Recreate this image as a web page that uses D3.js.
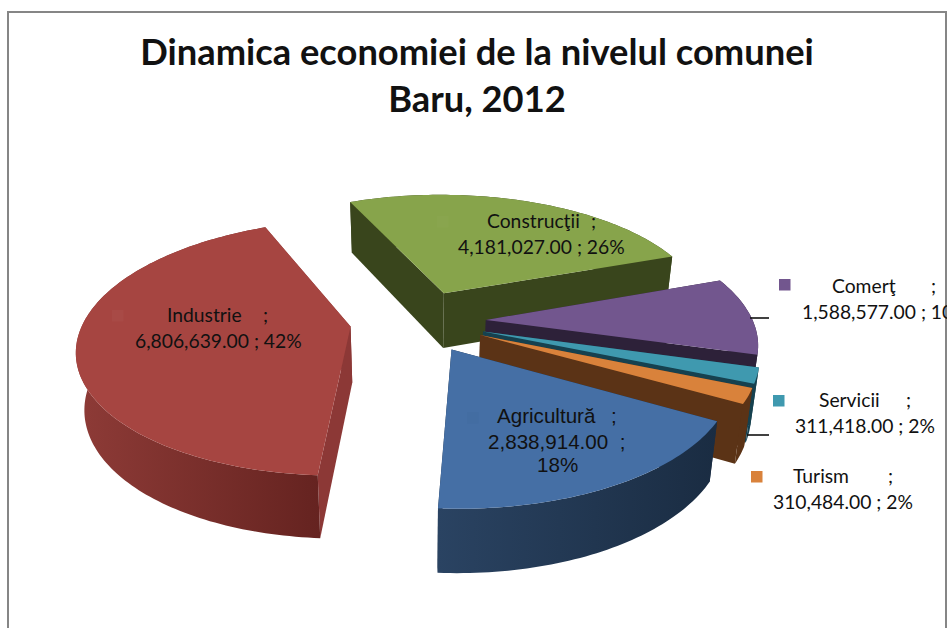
<!DOCTYPE html>
<html>
<head>
<meta charset="utf-8">
<script src="https://cdn.jsdelivr.net/npm/d3@7"></script>
<style>
html, body { margin: 0; padding: 0; background: #fff; overflow: hidden; }
svg { display: block; }
text { font-family: Lato, sans-serif; fill: #111; white-space: pre; }
</style>
</head>
<body>
<svg width="947" height="628"></svg>
<script>
var categories = ["Industrie", "Construcţii", "Comerţ", "Servicii", "Turism", "Agricultură"];
var values = [6806639, 4181027, 1588577, 311418, 310484, 2838914];
var titleLines = ["Dinamica economiei de la nivelul comunei", "Baru, 2012"];

var topColors = ["#a64541", "#87a44b", "#72568e", "#3f99af", "#d9823b", "#456fa5"];
var sideColors = ["#8c3836", "#39451c", "#2d2139", "#16414f", "#5b3316", "#1a2d44"];
var wallLeft = ["#8e3b37", "#39451c", "#2d2139", "#16414f", "#5b3316", "#2a4362"];
var wallRight = ["#652320", "#39451c", "#2d2139", "#16414f", "#5b3316", "#1a2c42"];
var keyColors = ["#a84a46", "#89a54e", "#72568e", "#3f99af", "#d9823b", "#436da2"];

var svg = d3.select("svg");

// projection of the pie plane, fitted by eye on the picture
var cx = 418, cy = 321,
    radius = 267, explode = 68, depth = 56,
    tilt = 0.46, persp = 1640, converge = 0.025,
    startAngle = 183.5 * Math.PI / 180;

function project(u, v, z) {
    var w = 1 - v / persp,
        k = z / depth;
    return [cx + (u / w) * (1 - converge * k), cy + tilt * v / w + z * (0.4 + 0.6 / w)];
}

var total = d3.sum(values);
var pie = d3.pie().sort(null)
    .startAngle(startAngle)
    .endAngle(startAngle + 2 * Math.PI);
var slices = pie(values);

var line = d3.line();
var fmtValue = d3.format(",.2f"),
    fmtPct = d3.format(".0%");

// frame
svg.append("path")
    .attr("d", "M8,628 V12 H946 V628")
    .attr("fill", "none")
    .attr("stroke", "#868686")
    .attr("stroke-width", 2);

var defs = svg.append("defs");
slices.forEach(function(d, i) {
    var g = defs.append("linearGradient")
        .attr("id", "wall" + i)
        .attr("gradientUnits", "objectBoundingBox");
    g.append("stop").attr("offset", "0%").attr("stop-color", wallLeft[i]);
    g.append("stop").attr("offset", "100%").attr("stop-color", wallRight[i]);
});

function arcPoints(d, z) {
    var mid = (d.startAngle + d.endAngle) / 2,
        ox = explode * Math.sin(mid),
        oy = -explode * Math.cos(mid),
        n = Math.ceil((d.endAngle - d.startAngle) / 0.02);
    return d3.range(n + 1).map(function(j) {
        var a = d.startAngle + (d.endAngle - d.startAngle) * j / n;
        return project(ox + radius * Math.sin(a), oy - radius * Math.cos(a), z);
    });
}

function apex(d, z) {
    var mid = (d.startAngle + d.endAngle) / 2;
    return project(explode * Math.sin(mid), -explode * Math.cos(mid), z);
}

// back to front
var drawOrder = [1, 2, 3, 4, 5, 0];

var sliceG = svg.selectAll(".slice")
    .data(drawOrder.map(function(i) { return slices[i]; }))
    .enter()
        .append("g")
        .attr("class", "slice");

sliceG.each(function(d) {
    var item = d3.select(this),
        top = arcPoints(d, 0),
        bottom = arcPoints(d, depth),
        a0 = apex(d, 0),
        a1 = apex(d, depth);

    // radial faces
    [[a0, top[0], bottom[0], a1],
     [a0, top[top.length - 1], bottom[bottom.length - 1], a1]].forEach(function(face) {
        item.append("path")
            .attr("d", line(face) + "Z")
            .attr("fill", sideColors[d.index]);
    });

    // outer wall
    item.append("path")
        .attr("d", line(top.concat(bottom.slice().reverse())) + "Z")
        .attr("fill", "url(#wall" + d.index + ")");

    // top face
    item.append("path")
        .attr("d", line([a0].concat(top)) + "Z")
        .attr("fill", topColors[d.index]);
});

// leader lines
[[750, 769, 318], [747, 769, 435]].forEach(function(l) {
    svg.append("line")
        .attr("x1", l[0]).attr("x2", l[1])
        .attr("y1", l[2]).attr("y2", l[2])
        .attr("stroke", "#111")
        .attr("stroke-width", 1.6);
});

// title
svg.selectAll(".title")
    .data(titleLines)
    .enter()
        .append("text")
        .attr("class", "title")
        .attr("x", 477)
        .attr("y", function(d, i) { return 65 + i * 47; })
        .attr("text-anchor", "middle")
        .attr("font-size", 36.3)
        .attr("font-weight", 700)
        .text(String);

// labels: x/y of the first line, x of the semicolon, x/y of the others, legend key
var labelLayout = [
    {x: 167, y: 322, semi: 263, x2: 135, y2: 348, key: [112, 310]},
    {x: 487, y: 228, semi: 591, x2: 458, y2: 254, key: [437, 216]},
    {x: 832, y: 293, semi: 931, x2: 802, y2: 319, key: [779, 279]},
    {x: 819, y: 407, semi: 906, x2: 795, y2: 433, key: [773, 395]},
    {x: 793, y: 483, semi: 888, x2: 773, y2: 509, key: [751, 471]},
    {x: 497, y: 423, semi: 611, x2: 488, y2: 449, key: [467, 412]}
];

categories.forEach(function(name, i) {
    var pos = labelLayout[i],
        isAgri = i === 5,
        font = isAgri ? "Liberation Sans" : "Lato",
        size = isAgri ? 20.6 : 19.3,
        val = fmtValue(values[i]),
        pct = fmtPct(values[i] / total);

    svg.append("rect")
        .attr("x", pos.key[0]).attr("y", pos.key[1])
        .attr("width", 11.5).attr("height", 11.5)
        .attr("fill", keyColors[i]);

    var lab = svg.append("g").attr("class", "label")
        .style("font-size", size + "px");

    lab.append("text").style("font-family", font).attr("x", pos.x).attr("y", pos.y).text(name);
    lab.append("text").style("font-family", font).attr("x", pos.semi).attr("y", pos.y).text(";");

    if (isAgri) {
        lab.append("text").style("font-family", font).attr("x", pos.x2).attr("y", pos.y2).text(val + "  ;");
        lab.append("text").style("font-family", font).attr("x", 537).attr("y", 472).text(pct);
    } else {
        lab.append("text").style("font-family", font).attr("x", pos.x2).attr("y", pos.y2).text(val + " ; " + pct);
    }
});
</script>
</body>
</html>
